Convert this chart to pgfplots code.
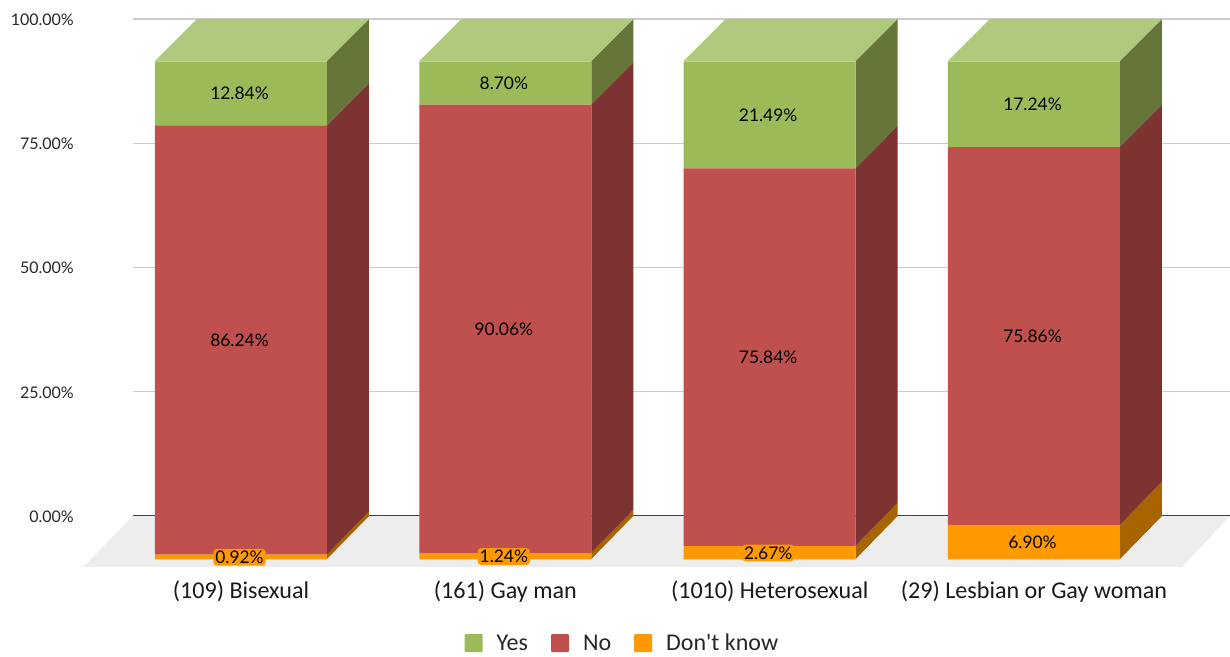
\documentclass[border=0pt]{standalone}
\usepackage{pgfplots}
\pgfplotsset{compat=1.18}
\usepackage{fontspec}
\setmainfont{Carlito}
\newfontfamily\latof{Lato}
\definecolor{gn}{HTML}{9BBB59}
\definecolor{rd}{HTML}{C0504D}
\definecolor{dk}{HTML}{FF9900}
\definecolor{gns}{HTML}{66763A}
\definecolor{rds}{HTML}{7C3331}
\definecolor{dks}{HTML}{A86400}
\definecolor{gnt}{HTML}{AFCA7D}
\tikzset{lab/.style={font=\latof\fontsize{17.4bp}{19bp}\selectfont,text=black,inner sep=0pt,xshift=-1.5bp,yshift=-0.3bp}}
\newcommand\lbl[3]{\node[lab] at (axis cs:#1,#2) {#3\%};}
\newcommand\halo[3]{\node[lab,fill=dk,rounded corners=3.5bp,inner xsep=2bp,inner ysep=2bp] at (axis cs:#1,#2) {#3\%};}
\begin{document}
\begin{tikzpicture}[x=1bp,y=1bp]
\useasboundingbox (0,0) rectangle (1230,657);
% back wall, floor, side and top faces: y is the back-wall percentage
\begin{axis}[
  at={(83bp,90bp)}, anchor=south west,
  scale only axis, width=1147bp, height=548bp,
  xmin=-0.5977, xmax=3.7415, ymin=-10.26, ymax=100,
  clip=false,
  hide x axis,
  axis y line*=left, y axis line style={draw=none},
  ytick={0,25,50,75,100}, tick style={draw=none},
  /pgf/number format/assume math mode=true,
  yticklabel={\pgfmathprintnumber[fixed,fixed zerofill,precision=2]{\tick}\%},
  yticklabel style={font=\latof\fontsize{16bp}{18bp}\selectfont,text=black!85,inner sep=0pt,xshift=-9bp,yshift=-0.7bp},
]
\addplot[fill=black!7,draw=none] coordinates {(-0.4086,0)(3.7415,0)(3.56,-10.26)(-0.5977,-10.26)} -- cycle;
\addplot[draw=black!20,line width=1.2bp] coordinates {(-0.4086,25)(3.7415,25)};
\addplot[draw=black!20,line width=1.2bp] coordinates {(-0.4086,50)(3.7415,50)};
\addplot[draw=black!20,line width=1.2bp] coordinates {(-0.4086,75)(3.7415,75)};
\addplot[draw=black!20,line width=1.2bp] coordinates {(-0.4086,100)(3.7415,100)};
\addplot[draw=black!75,line width=1bp] coordinates {(-0.4086,0)(3.7415,0)};
% bar 0
\addplot[fill=dks,draw=none] coordinates {(0.3253,-8.65)(0.4842,0)(0.4842,0.92)(0.3253,-7.73)} -- cycle;
\addplot[fill=rds,draw=none] coordinates {(0.3253,-7.73)(0.4842,0.92)(0.4842,87.16)(0.3253,78.64)} -- cycle;
\addplot[fill=gns,draw=none] coordinates {(0.3253,78.64)(0.4842,87.16)(0.4842,100)(0.3253,91.55)} -- cycle;
\addplot[fill=gnt,draw=none] coordinates {(-0.3253,91.55)(0.3253,91.55)(0.4842,100)(-0.1664,100)} -- cycle;
% bar 1
\addplot[fill=dks,draw=none] coordinates {(1.3253,-8.65)(1.4842,0)(1.4842,1.24)(1.3253,-7.41)} -- cycle;
\addplot[fill=rds,draw=none] coordinates {(1.3253,-7.41)(1.4842,1.24)(1.4842,91.30)(1.3253,82.84)} -- cycle;
\addplot[fill=gns,draw=none] coordinates {(1.3253,82.84)(1.4842,91.30)(1.4842,100)(1.3253,91.55)} -- cycle;
\addplot[fill=gnt,draw=none] coordinates {(0.6747,91.55)(1.3253,91.55)(1.4842,100)(0.8336,100)} -- cycle;
% bar 2
\addplot[fill=dks,draw=none] coordinates {(2.3253,-8.65)(2.4842,0)(2.4842,2.67)(2.3253,-5.97)} -- cycle;
\addplot[fill=rds,draw=none] coordinates {(2.3253,-5.97)(2.4842,2.67)(2.4842,78.51)(2.3253,70.02)} -- cycle;
\addplot[fill=gns,draw=none] coordinates {(2.3253,70.02)(2.4842,78.51)(2.4842,100)(2.3253,91.55)} -- cycle;
\addplot[fill=gnt,draw=none] coordinates {(1.6747,91.55)(2.3253,91.55)(2.4842,100)(1.8336,100)} -- cycle;
% bar 3
\addplot[fill=dks,draw=none] coordinates {(3.3253,-8.65)(3.4842,0)(3.4842,6.90)(3.3253,-1.74)} -- cycle;
\addplot[fill=rds,draw=none] coordinates {(3.3253,-1.74)(3.4842,6.90)(3.4842,82.76)(3.3253,74.29)} -- cycle;
\addplot[fill=gns,draw=none] coordinates {(3.3253,74.29)(3.4842,82.76)(3.4842,100)(3.3253,91.55)} -- cycle;
\addplot[fill=gnt,draw=none] coordinates {(2.6747,91.55)(3.3253,91.55)(3.4842,100)(2.8336,100)} -- cycle;
\end{axis}
% front faces: stacked bars
\begin{axis}[
  at={(83bp,90bp)}, anchor=south west,
  scale only axis, width=1147bp, height=548bp,
  xmin=-0.5977, xmax=3.7415, ymin=-1.54, ymax=108.5,
  clip=false,
  ybar stacked, bar width=172bp,
  hide y axis,
  axis x line*=bottom, x axis line style={draw=none},
  xtick={0,1,2,3}, tick style={draw=none},
  xticklabels={(109) Bisexual,(161) Gay man,(1010) Heterosexual,(29) Lesbian or Gay woman},
  xticklabel style={font=\fontsize{24.1bp}{26bp}\selectfont,text=black!90,inner sep=0pt,yshift=-13.7bp},
  reverse legend,
  legend columns=3,
  legend cell align=left,
  legend style={draw=none,fill=none,at={(0.4703,-0.139)},anchor=center,
    font=\fontsize{24bp}{26bp}\selectfont,text=black!85,inner sep=0pt,
    /tikz/every even column/.append style={column sep=21bp},
    /tikz/every odd column/.append style={column sep=12bp}},
  legend image code/.code={\fill[#1,rounded corners=1bp] (0bp,-9bp) rectangle (18bp,9bp);},
]
\addplot+[fill=dk,draw=none] coordinates {(0,0.92)(1,1.24)(2,2.67)(3,6.90)};
\addlegendentry{Don\textquotesingle t know}
\addplot+[fill=rd,draw=none] coordinates {(0,86.24)(1,90.06)(2,75.84)(3,75.86)};
\addlegendentry{No}
\addplot+[fill=gn,draw=none] coordinates {(0,12.84)(1,8.70)(2,21.49)(3,17.24)};
\addlegendentry{Yes}
\end{axis}
% data labels
\begin{axis}[
  at={(83bp,90bp)}, anchor=south west,
  scale only axis, width=1147bp, height=548bp,
  xmin=-0.5977, xmax=3.7415, ymin=-1.54, ymax=108.5,
  clip=false, hide axis,
]
\lbl{0}{93.58}{12.84}
\lbl{1}{95.65}{8.70}
\lbl{2}{89.26}{21.49}
\lbl{3}{91.38}{17.24}
\lbl{0}{44.04}{86.24}
\lbl{1}{46.27}{90.06}
\lbl{2}{40.59}{75.84}
\lbl{3}{44.83}{75.86}
\halo{0}{0.46}{0.92}
\halo{1}{0.62}{1.24}
\halo{2}{1.34}{2.67}
\lbl{3}{3.45}{6.90}
\end{axis}
\end{tikzpicture}
\end{document}
